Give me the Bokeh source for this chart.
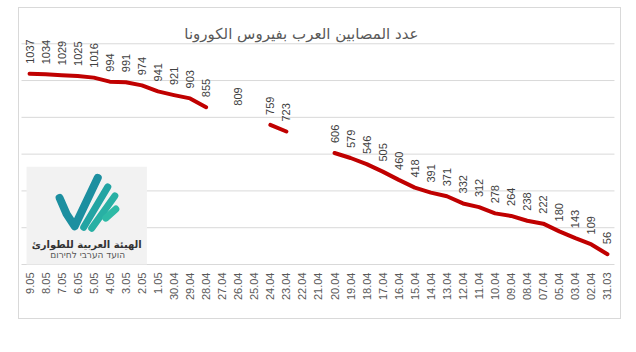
import math
from bokeh.plotting import figure
from bokeh.models import ColumnDataSource, Range1d, LabelSet, Label, FixedTicker
from bokeh.core.properties import value
from bokeh.embed import file_html
from bokeh.resources import INLINE

# ---- data ----
dates = ["9.05", "8.05", "7.05", "6.05", "5.05", "4.05", "3.05", "2.05", "1.05",
         "30.04", "29.04", "28.04", "27.04", "26.04", "25.04", "24.04", "23.04",
         "22.04", "21.04", "20.04", "19.04", "18.04", "17.04", "16.04", "15.04",
         "14.04", "13.04", "12.04", "11.04", "10.04", "09.04", "08.04", "07.04",
         "05.04", "03.04", "02.04", "31.03"]
cases = [1037, 1034, 1029, 1025, 1016, 994, 991, 974, 941,
         921, 903, 855, None, 809, None, 759, 723,
         None, None, 606, 579, 546, 505, 460, 418,
         391, 371, 332, 312, 278, 264, 238, 222,
         180, 143, 109, 56]
grid_ticks = [200, 400, 600, 800, 1000, 1200]
title_text = "عدد المصابين العرب بفيروس الكورونا"
logo_ar = "الهيئة العربية للطوارئ"
logo_he = "הועד הערבי לחירום"

pos = list(range(len(dates)))
y_line = [float("nan") if v is None else v for v in cases]
lab_x = [i for i, v in zip(pos, cases) if v is not None]
lab_y = [v for v in cases if v is not None]
lab_src = ColumnDataSource(dict(x=lab_x, y=lab_y, t=[str(v) for v in lab_y]))

# ---- layout (page pixels) ----
OX, OY = 19, 8            # canvas origin on the page (inside the 1px chart border)
W, H = 601, 310           # canvas size
FB = 263                  # frame bottom (page y)
MB = OY + H - FB          # bottom panel for the category axis
CAT0, CATW = 29, 16       # first category centre and category pitch (page px)
ZERO_Y, PX_PER = 262, 36.5 / 200.0

x_lo = (OX - CAT0) / CATW
x_hi = (OX + W - CAT0) / CATW
y_lo = (ZERO_Y - FB) / PX_PER
y_hi = (ZERO_Y - OY) / PX_PER

p = figure(width=W, height=H, x_range=Range1d(x_lo, x_hi), y_range=Range1d(y_lo, y_hi),
           output_backend="svg", toolbar_location=None, y_axis_location=None,
           min_border_left=0, min_border_right=0, min_border_top=0, min_border_bottom=MB)
p.styles = {"border": "1px solid #d9d9d9", "margin-left": "18px", "margin-top": "7px",
            "box-sizing": "content-box"}
p.outline_line_color = None
p.background_fill_color = "white"
p.border_fill_color = "white"
p.extra_x_ranges = {"px": Range1d(0, W)}
p.extra_y_ranges = {"px": Range1d(0, FB - OY)}
p.xgrid.visible = False
p.ygrid.visible = False

def px(x, y):
    return x - OX, FB - y

ax = p.xaxis[0]
ax.ticker = FixedTicker(ticks=pos)
ax.major_label_overrides = {i: d for i, d in zip(pos, dates)}
ax.axis_line_color = None
ax.major_tick_line_color = None
ax.major_tick_out = 0
ax.major_tick_in = 0
ax.minor_tick_line_color = None
ax.major_label_orientation = math.pi / 2
ax.major_label_standoff = 7
ax.major_label_text_font = "Liberation Sans"
ax.major_label_text_font_size = "11px"
ax.major_label_text_color = "#595959"

# horizontal gridlines (value axis) incl. baseline
gx0, _ = px(21, 0)
gx1, _ = px(612, 0)
gy = [0] + grid_ticks
p.segment(x0=[gx0] * len(gy), x1=[gx1] * len(gy), y0=gy, y1=gy, x_range_name="px",
          line_color="#d9d9d9", line_width=1)

# logo (decoration) in frame-pixel coordinates
l0, b0 = px(26, 262)
r0, t0 = px(146, 165)
p.quad(left=[l0], right=[r0], bottom=[b0], top=[t0], x_range_name="px", y_range_name="px",
       fill_color="#f2f2f2", line_color=None)
v_pts = [px(59, 196), px(66, 212), px(74, 224), px(97, 176)]
p.line([q[0] for q in v_pts], [q[1] for q in v_pts], x_range_name="px", y_range_name="px",
       line_color="#1c8fa0", line_width=8, line_cap="round", line_join="round")
strokes = [((83, 225), (107, 185), "#22a4a3"), ((91, 226), (114, 194), "#28b0a4"),
           ((105, 216), (115, 207), "#2ebaa6")]
for a, b, c in strokes:
    (x0, y0), (x1, y1) = px(*a), px(*b)
    p.segment(x0=[x0], y0=[y0], x1=[x1], y1=[y1], x_range_name="px", y_range_name="px",
              line_color=c, line_width=7, line_cap="round")
ax_, ay_ = px(86, 242)
p.add_layout(Label(x=ax_, y=ay_, text=logo_ar, x_range_name="px", y_range_name="px",
                   text_align="center", text_baseline="middle", text_font="DejaVu Sans",
                   text_font_style="bold", text_font_size="10px", text_color="#333333"))
hx_, hy_ = px(87, 253)
p.add_layout(Label(x=hx_, y=hy_, text=logo_he, x_range_name="px", y_range_name="px",
                   text_align="center", text_baseline="middle", text_font="DejaVu Sans",
                   text_font_size="9px", text_color="#555555"))

# data line
p.line(pos, y_line, line_color="#C00000", line_width=4, line_cap="round", line_join="round")

# data labels
p.add_layout(LabelSet(x="x", y="y", text="t", source=lab_src, angle=math.pi / 2,
                      text_align="left", text_baseline="middle", y_offset=10,
                      text_font=value("Liberation Sans"), text_font_size="11px",
                      text_color="#404040"))

# title
tx, ty = px(300, 33)
p.add_layout(Label(x=tx, y=ty, text=title_text, x_range_name="px", y_range_name="px",
                   text_align="center", text_baseline="middle", text_font="DejaVu Sans",
                   text_font_size="15px", text_color="#595959"))

open("out.html", "w").write(file_html(p, INLINE))
